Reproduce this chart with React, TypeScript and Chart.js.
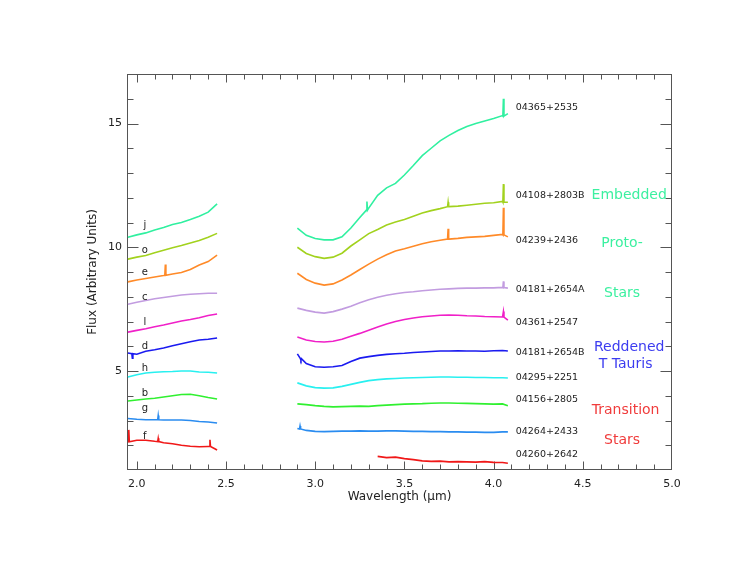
import { useEffect, useRef } from "react";
import { Chart, registerables } from "chart.js";

Chart.register(...registerables);

// wavelength grids (micron) for the K band and L band pieces
const kWave = [1.95, 2.0, 2.05, 2.1, 2.15, 2.2, 2.25, 2.3, 2.35, 2.4, 2.45];
const lWave = [
  2.9, 2.95, 3.0, 3.05, 3.1, 3.15, 3.2, 3.25, 3.3, 3.35, 3.4, 3.45, 3.5,
  3.55, 3.6, 3.65, 3.7, 3.75, 3.8, 3.85, 3.9, 3.95, 4.0, 4.05, 4.08,
];

const objectNames = [
  "04365+2535",
  "04108+2803B",
  "04239+2436",
  "04181+2654A",
  "04361+2547",
  "04181+2654B",
  "04295+2251",
  "04156+2805",
  "04264+2433",
  "04260+2642",
];
const letterTags = ["j", "o", "e", "c", "l", "d", "h", "b", "g", "f"];
const lineColors = [
  "#30f0a0",
  "#a2d21e",
  "#ff8a28",
  "#c29ce0",
  "#f020c8",
  "#1a1af0",
  "#28f0f0",
  "#30f030",
  "#2a8cf0",
  "#f01818",
];

// K band flux, one row per object (same order as objectNames)
const kFlux = [
  [10.4, 10.5, 10.58, 10.7, 10.8, 10.92, 11.0, 11.12, 11.25, 11.42, 11.75],
  [9.52, 9.6, 9.67, 9.78, 9.88, 9.98, 10.07, 10.17, 10.27, 10.4, 10.56],
  [8.6, 8.68, 8.74, 8.8, 8.86, 8.92, 8.98, 9.1, 9.28, 9.42, 9.68],
  [7.7, 7.78, 7.85, 7.92, 7.97, 8.02, 8.07, 8.1, 8.12, 8.14, 8.14],
  [6.57, 6.64, 6.71, 6.79, 6.86, 6.94, 7.02, 7.08, 7.15, 7.24, 7.3],
  [5.73, 5.68, 5.8, 5.86, 5.93, 6.02, 6.1, 6.18, 6.25, 6.28, 6.33],
  [4.76, 4.85, 4.92, 4.95, 4.97, 4.98, 5.0, 5.0, 4.96, 4.95, 4.92],
  [3.79, 3.83, 3.87, 3.9, 3.95, 4.0, 4.05, 4.06, 4.0, 3.93, 3.87],
  [3.08, 3.05, 3.03, 3.03, 3.02, 3.02, 3.02, 3.0, 2.96, 2.94, 2.9],
  [2.14, 2.2, 2.2, 2.16, 2.1, 2.06, 2.0, 1.96, 1.94, 1.95, 1.81],
];

// L band flux
const lFlux = [
  [10.77, 10.48, 10.35, 10.3, 10.3, 10.42, 10.78, 11.2, 11.58, 12.1, 12.4, 12.58, 12.92,
    13.3, 13.7, 14.0, 14.3, 14.52, 14.72, 14.88, 15.0, 15.1, 15.2, 15.32, 15.4],
  [10.0, 9.75, 9.62, 9.55, 9.6, 9.76, 10.05, 10.3, 10.55, 10.72, 10.9, 11.02, 11.12,
    11.25, 11.38, 11.48, 11.56, 11.64, 11.66, 11.7, 11.74, 11.78, 11.8, 11.85, 11.82],
  [8.95, 8.7, 8.55, 8.47, 8.52, 8.68, 8.88, 9.1, 9.32, 9.52, 9.7, 9.85, 9.94,
    10.04, 10.14, 10.22, 10.28, 10.33, 10.36, 10.4, 10.42, 10.44, 10.48, 10.52, 10.42],
  [7.54, 7.45, 7.38, 7.34, 7.4, 7.5, 7.62, 7.76, 7.88, 7.98, 8.06, 8.12, 8.17,
    8.2, 8.24, 8.27, 8.3, 8.32, 8.34, 8.35, 8.35, 8.36, 8.36, 8.38, 8.35],
  [6.37, 6.25, 6.19, 6.17, 6.2, 6.28, 6.4, 6.52, 6.65, 6.78, 6.9, 7.0, 7.08,
    7.14, 7.19, 7.22, 7.25, 7.26, 7.25, 7.23, 7.22, 7.2, 7.19, 7.18, 7.06],
  [5.69, 5.3, 5.17, 5.15, 5.17, 5.22, 5.38, 5.52, 5.58, 5.63, 5.67, 5.7, 5.72,
    5.75, 5.77, 5.79, 5.81, 5.81, 5.82, 5.81, 5.81, 5.8, 5.82, 5.83, 5.81],
  [4.52, 4.4, 4.33, 4.31, 4.32, 4.38, 4.46, 4.54, 4.61, 4.65, 4.68, 4.7, 4.72,
    4.73, 4.74, 4.75, 4.76, 4.76, 4.75, 4.75, 4.74, 4.74, 4.73, 4.73, 4.72],
  [3.67, 3.64, 3.6, 3.57, 3.55, 3.56, 3.57, 3.58, 3.57, 3.6, 3.62, 3.64, 3.66,
    3.67, 3.68, 3.7, 3.71, 3.71, 3.7, 3.69, 3.68, 3.67, 3.66, 3.67, 3.6],
  [2.68, 2.6, 2.56, 2.55, 2.56, 2.57, 2.57, 2.58, 2.57, 2.57, 2.58, 2.58, 2.57,
    2.56, 2.56, 2.55, 2.55, 2.54, 2.54, 2.53, 2.53, 2.52, 2.52, 2.54, 2.54],
  [null, null, null, null, null, null, null, null, null, 1.55, 1.5, 1.52, 1.46,
    1.42, 1.37, 1.35, 1.36, 1.33, 1.34, 1.33, 1.32, 1.34, 1.31, 1.3, 1.27],
];

// narrow emission spikes: [wavelength, continuum, peak]
const spikes = [
  [[3.29, 11.5, 11.85], [4.055, 15.3, 16.0]],
  [[3.745, 11.64, 11.82], [4.055, 11.82, 12.55]],
  [[2.16, 8.87, 9.3], [3.745, 10.33, 10.75], [4.055, 10.5, 11.6]],
  [[4.055, 8.37, 8.62]],
  [[4.055, 7.18, 7.4]],
  [[1.975, 5.7, 5.52], [2.92, 5.5, 5.44]],
  [],
  [],
  [[2.12, 3.03, 3.2], [2.915, 2.66, 2.78]],
  [[1.955, 2.14, 2.62], [2.12, 2.15, 2.28], [2.41, 1.95, 2.22]],
];

const xTickValues = [2.0, 2.5, 3.0, 3.5, 4.0, 4.5, 5.0];
const yTickValues = [5, 10, 15];

// annotations
const letterY = [10.9, 9.88, 9.0, 7.98, 6.98, 6.0, 5.12, 4.11, 3.5, 2.34];
const nameY = [15.65, 12.1, 10.28, 8.3, 6.94, 5.73, 4.72, 3.83, 2.54, 1.61];
const groupText = ["Embedded", "Proto-", "Stars", "Reddened", "T Tauris", "Transition", "Stars"];
const groupX = [4.76, 4.72, 4.72, 4.76, 4.74, 4.74, 4.72];
const groupY = [12.1, 10.16, 8.15, 5.97, 5.28, 3.39, 2.18];
const groupColor = ["#3cf0a0", "#3cf0a0", "#3cf0a0", "#3c3cf0", "#3c3cf0", "#f03c3c", "#f03c3c"];

const FONT = "'DejaVu Sans', 'Liberation Sans', sans-serif";

function buildPoints(i: number) {
  const pts: { x: number; y: number | null }[] = [];
  kWave.forEach((w, j) => pts.push({ x: w, y: kFlux[i][j] }));
  lWave.forEach((w, j) => pts.push({ x: w, y: lFlux[i][j] }));
  spikes[i].forEach(([w, base, peak]) => {
    pts.push({ x: w - 0.003, y: base });
    pts.push({ x: w, y: peak });
    pts.push({ x: w + 0.003, y: base });
  });
  pts.push({ x: 2.675, y: null }); // gap between the bands
  pts.sort((a, b) => a.x - b.x);
  return pts;
}

const framePlugin = {
  id: "frameTicks",
  beforeDatasetsDraw(chart: any) {
    const { ctx, chartArea: a, scales } = chart;
    const x = scales.x;
    const y = scales.y;
    ctx.save();
    ctx.strokeStyle = "#555";
    ctx.lineWidth = 1;
    const L = Math.round(a.left) + 0.5;
    const R = Math.round(a.right) - 0.5;
    const T = Math.round(a.top) + 0.5;
    const B = Math.round(a.bottom) - 0.5;
    ctx.strokeRect(L, T, R - L, B - T);
    ctx.beginPath();
    for (let i = Math.ceil(x.min * 10 - 1e-9); i <= Math.floor(x.max * 10 + 1e-9); i++) {
      const px = Math.round(x.getPixelForValue(i / 10)) + 0.5;
      if (px < L + 1 || px > R - 1) continue;
      const len = i % 5 === 0 ? 8 : 5;
      ctx.moveTo(px, B);
      ctx.lineTo(px, B - len);
      ctx.moveTo(px, T);
      ctx.lineTo(px, T + len);
    }
    for (let i = Math.ceil(y.min); i <= Math.floor(y.max); i++) {
      const py = Math.round(y.getPixelForValue(i)) + 0.5;
      if (py < T + 1 || py > B - 1) continue;
      const len = i % 5 === 0 ? 11 : 6;
      ctx.moveTo(L, py);
      ctx.lineTo(L + len, py);
      ctx.moveTo(R, py);
      ctx.lineTo(R - len, py);
    }
    ctx.stroke();
    ctx.restore();
  },
  afterDatasetsDraw(chart: any) {
    const { ctx, scales } = chart;
    const x = scales.x;
    const y = scales.y;
    ctx.save();
    ctx.textBaseline = "middle";
    ctx.fillStyle = "#222";
    ctx.textAlign = "center";
    ctx.font = `10px ${FONT}`;
    letterTags.forEach((t, i) => {
      ctx.fillText(t, x.getPixelForValue(2.045), y.getPixelForValue(letterY[i]));
    });
    ctx.textAlign = "left";
    ctx.font = `9.5px ${FONT}`;
    objectNames.forEach((n, i) => {
      ctx.fillText(n, x.getPixelForValue(4.124), y.getPixelForValue(nameY[i]));
    });
    ctx.textAlign = "center";
    ctx.font = `14px ${FONT}`;
    groupText.forEach((g, i) => {
      ctx.fillStyle = groupColor[i];
      ctx.fillText(g, x.getPixelForValue(groupX[i]), y.getPixelForValue(groupY[i]));
    });
    ctx.restore();
  },
};

export default function App() {
  const chartRef = useRef<HTMLCanvasElement>(null);
  useEffect(() => {
    if (!chartRef.current) return;
    document.body.style.margin = "0";

    const datasets = objectNames.map((name, i) => ({
      label: name,
      data: buildPoints(i),
      borderColor: lineColors[i],
      backgroundColor: lineColors[i],
      borderWidth: 1.6,
      pointRadius: 0,
      tension: 0,
      spanGaps: false,
      fill: false,
    }));

    const chart = new Chart(chartRef.current, {
      type: "line",
      data: { datasets },
      options: {
        animation: false,
        responsive: false,
        layout: { padding: { left: 78, right: 74, top: 74, bottom: 0 } },
        plugins: {
          legend: { display: false },
          tooltip: { enabled: false },
        },
        scales: {
          x: {
            type: "linear",
            min: 1.945,
            max: 5.0,
            grid: { display: false, drawTicks: false },
            border: { display: false },
            afterBuildTicks: (scale: any) => {
              scale.ticks = xTickValues.map((v) => ({ value: v }));
            },
            afterFit: (scale: any) => {
              scale.height = 99;
            },
            ticks: {
              autoSkip: false,
              maxRotation: 0,
              padding: 8,
              color: "#222",
              font: { family: FONT, size: 11 },
              callback: (v: any) => Number(v).toFixed(1),
            },
            title: {
              display: true,
              text: "Wavelength (μm)",
              color: "#222",
              font: { family: FONT, size: 12 },
              padding: { top: 0, bottom: 65 },
            },
          },
          y: {
            type: "linear",
            min: 1,
            max: 17,
            grid: { display: false, drawTicks: false },
            border: { display: false },
            afterBuildTicks: (scale: any) => {
              scale.ticks = yTickValues.map((v) => ({ value: v }));
            },
            afterFit: (scale: any) => {
              scale.width = 49;
            },
            ticks: {
              autoSkip: false,
              padding: 5,
              color: "#222",
              font: { family: FONT, size: 11 },
              callback: (v: any) => String(v),
            },
            title: {
              display: true,
              text: "Flux (Arbitrary Units)",
              color: "#222",
              font: { family: FONT, size: 12 },
              padding: { top: 8, bottom: 0 },
            },
          },
        },
      },
      plugins: [framePlugin],
    });

    return () => {
      chart.destroy();
    };
  }, []);

  return (
    <div style={{ width: 746, height: 569, background: "#fff" }}>
      <canvas ref={chartRef} width={746} height={569} style={{ display: "block" }} />
    </div>
  );
}
